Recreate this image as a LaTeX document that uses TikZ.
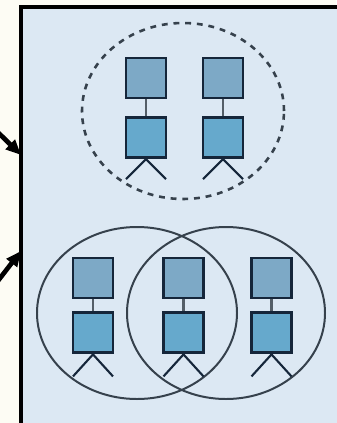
\documentclass[tikz,border=0pt]{standalone}
\usetikzlibrary{shapes.geometric, arrows.meta, positioning}

\definecolor{paper}{HTML}{FDFCF4}
\definecolor{panelblue}{HTML}{DCE8F3}
\definecolor{headblue}{HTML}{7DA9C6}
\definecolor{bodyblue}{HTML}{66A9CC}
\definecolor{boxedge}{HTML}{15263A}
\definecolor{ringgray}{HTML}{36414C}

\begin{document}
\begin{tikzpicture}[x=0.03cm, y=-0.03cm,
      node distance=0.5cm,
      head/.style={rectangle, draw=boxedge, line width=2.5pt, fill=headblue, minimum size=1.2cm, inner sep=0pt},
      body/.style={rectangle, draw=boxedge, line width=2.5pt, fill=bodyblue, minimum size=1.2cm, inner sep=0pt},
      link/.style={draw=ringgray!85, line width=2pt},
      leg/.style={draw=boxedge, line width=1.8pt},
      ring/.style={ellipse, draw=ringgray, line width=1.7pt, inner sep=0pt},
      pointer/.style={-{Triangle[length=13pt, width=11pt]}, line width=4pt}
    ]

    \useasboundingbox (0,0) rectangle (336,423);
    \fill[paper] (0,0) rectangle (336,423);

    % panel
    \fill[panelblue] (21,7) rectangle (345,430);
    \draw[line width=3.4pt] (21,430) -- (21,7) -- (345,7);

    % incoming arrows from the left
    \coordinate (srcA) at (-40,95);
    \coordinate (dstA) at (21,155);
    \coordinate (srcB) at (-40,330);
    \coordinate (dstB) at (21,251);
    \draw[pointer] (srcA) -- (dstA);
    \draw[pointer] (srcB) -- (dstB);

    % upper group
    \node[ring, line width=2.2pt, dash pattern=on 5pt off 5pt, minimum width=6.06cm, minimum height=5.28cm] (grpTop) at (183,111) {};

    \node[head] (tA) at (146,78) {};
    \node[body, below=of tA] (tAb) {};
    \node[head] (tB) at (223,78) {};
    \node[body, below=of tB] (tBb) {};

    % lower groups
    \node[ring, minimum width=6cm, minimum height=5.16cm] (grpLeft) at (137,313) {};
    \node[ring, minimum width=5.94cm, minimum height=5.16cm] (grpRight) at (226,313) {};

    \node[head] (bA) at (93,278) {};
    \node[body, below=0.36cm of bA] (bAb) {};
    \node[head] (bB) at (183.5,278) {};
    \node[body, below=0.36cm of bB] (bBb) {};
    \node[head] (bC) at (271.5,278) {};
    \node[body, below=0.36cm of bC] (bCb) {};

    % links between the boxes
    \draw[link] (tA.south) -- (tAb.north);
    \draw[link] (tB.south) -- (tBb.north);
    \draw[link] (bA.south) -- (bAb.north);
    \draw[link] (bB.south) -- (bBb.north);
    \draw[link] (bC.south) -- (bCb.north);

    % legs
    \coordinate[below left=0.6cm and 0.6cm of tAb.south] (tAl);
    \coordinate[below right=0.6cm and 0.6cm of tAb.south] (tAr);
    \coordinate[below left=0.6cm and 0.6cm of tBb.south] (tBl);
    \coordinate[below right=0.6cm and 0.6cm of tBb.south] (tBr);
    \coordinate[below left=0.66cm and 0.6cm of bAb.south] (bAl);
    \coordinate[below right=0.66cm and 0.6cm of bAb.south] (bAr);
    \coordinate[below left=0.66cm and 0.6cm of bBb.south] (bBl);
    \coordinate[below right=0.66cm and 0.6cm of bBb.south] (bBr);
    \coordinate[below left=0.66cm and 0.6cm of bCb.south] (bCl);
    \coordinate[below right=0.66cm and 0.6cm of bCb.south] (bCr);

    \draw[leg] (tAl) -- (tAb.south) -- (tAr);
    \draw[leg] (tBl) -- (tBb.south) -- (tBr);
    \draw[leg] (bAl) -- (bAb.south) -- (bAr);
    \draw[leg] (bBl) -- (bBb.south) -- (bBr);
    \draw[leg] (bCl) -- (bCb.south) -- (bCr);
  \end{tikzpicture}
\end{document}
